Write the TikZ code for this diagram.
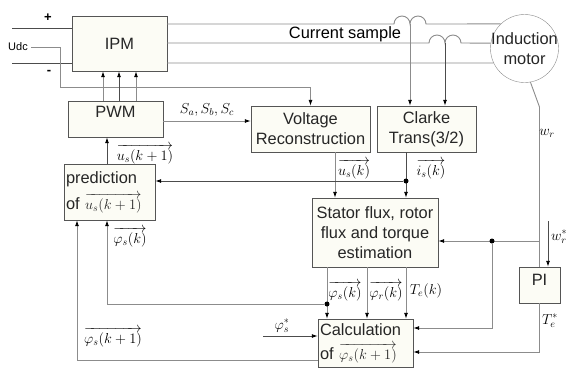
\documentclass[tikz,border=0pt]{standalone}
\usepackage{amsmath,amssymb}
\usepackage[no-math]{fontspec}
\setmainfont{Liberation Sans}
\usepackage{tikz}
\usetikzlibrary{arrows.meta}
\usepackage{xcolor}
\definecolor{boxfill}{RGB}{252,252,245}
\definecolor{boxline}{RGB}{85,85,85}
\definecolor{wiregray}{RGB}{140,140,140}

\begin{document}
\begin{tikzpicture}[x=1pt,y=-1pt,>={Latex[length=6pt,width=4pt,color=black]},
  font=\fontsize{16.4}{20}\selectfont,
  block/.style={draw=boxline,fill=boxfill,text=black!85,inner sep=2pt,align=center},
  wire/.style={draw=wiregray,line width=0.9pt},
  dark/.style={draw=black!70,line width=0.9pt},
  lbl/.style={font=\fontsize{14.5}{17}\selectfont,inner sep=0pt},
  dot/.style={circle,fill=black,inner sep=0pt,minimum size=5pt}]
\useasboundingbox (0,0) rectangle (568,368);
% blocks
\node[block,minimum width=95pt,minimum height=55pt] (ipm) at (119.5,43.5) {IPM};
\node[block,minimum width=95pt,minimum height=36pt,text depth=14pt] (pwm) at (115.5,119) {PWM};
\node[block,minimum width=119pt,minimum height=46pt] (vr) at (310.5,129) {Voltage\\Reconstruction};
\node[block,minimum width=99pt,minimum height=46pt] (clarke) at (426.5,129) {Clarke\\Trans(3/2)};
\node[block,minimum width=91pt,minimum height=56pt,text width=87pt,align=left] (pred) at (109.5,192) {prediction\\[6pt]of {\fontsize{14.5}{17}\selectfont$\overrightarrow{u_s(k+1)}$}};
\node[block,minimum width=126pt,minimum height=69pt] (est) at (375,232.5) {Stator flux, rotor\\flux and torque\\estimation};
\node[block,minimum width=95pt,minimum height=48pt,text width=91pt,align=left] (calc) at (365.5,343) {Calculation\\[4pt]of {\fontsize{14.5}{17}\selectfont$\overrightarrow{\varphi_s(k+1)}$}};
\node[block,minimum width=41pt,minimum height=36pt,text depth=10pt] (pi) at (539.5,285) {PI};
\node[circle,draw=wiregray,fill=white,minimum size=68pt,inner sep=0pt] (motor) at (524.5,48.5) {};
\node[align=center,text=black!85] (motortxt) at (motor) {Induction\\motor};
% dc link
\coordinate (pin) at (12,28);
\coordinate (nin) at (12,63);
\draw[dark] (pin) -- (pin -| ipm.west);
\draw[dark] (nin) -- (nin -| ipm.west);
\node[font=\fontsize{13}{15}\selectfont\bfseries] (plus) at (48,18) {+};
\node[font=\fontsize{13}{15}\selectfont\bfseries] (minus) at (49,72) {-};
\node[font=\fontsize{11}{13}\selectfont] (udc) at (18,47) {Udc};
\draw[wire,->] (udc.east) -- (60,47) -- (60,87) -| (vr.north);
% phases to the motor
\draw[wire] (ipm.east |- 0,24) -- (394,24) arc[start angle=180,end angle=360,radius=8] arc[start angle=180,end angle=360,radius=8] -- (motor.134);
\draw[wire] (ipm.east |- 0,43) -- (429,43) arc[start angle=180,end angle=360,radius=8] arc[start angle=180,end angle=360,radius=8] -- (motor.171);
\draw[wire] (ipm.east |- 0,63) -- (motor.205);
\coordinate (ia) at (410,24);
\coordinate (ib) at (445,43);
\draw[wire,->] (ia) -- (ia |- clarke.north);
\draw[dark,->] (ib) -- (ib |- clarke.north);
\node (cur) at (345,34) {Current sample};
% modulator
\foreach \x/\s in {103/wire,119/dark,136/wire}
  \draw[\s,->] (pwm.north -| \x,0) -- (ipm.south -| \x,0);
\draw[wire,->] (pwm.east |- 0,121) -- (vr.west |- 0,121) node[lbl,midway,above=4pt] (sabc) {$S_a,S_b,S_c$};
\draw[dark,->] (pred.north -| 107,0) -- (pwm.south -| 107,0);
\node[lbl] (uk1) at (145,154) {$\overrightarrow{u_s(k+1)}$};
% measurements
\draw[wire,->] (vr.south -| 335,0) -- (est.north -| 335,0);
\node[lbl] (uk) at (354,169) {$\overrightarrow{u_s(k)}$};
\draw[dark,->] (clarke.south -| 406,0) -- (est.north -| 406,0);
\node[dot] (dis) at (406,181) {};
\draw[dark,->] (dis) -- (dis -| pred.east);
\node[lbl] (ik) at (431,169) {$\overrightarrow{i_s(k)}$};
% estimator outputs
\foreach \x in {327,367,406}
  \draw[wire,->] (est.south -| \x,0) -- (calc.north -| \x,0);
\node[lbl] (phis) at (345,291) {$\overrightarrow{\varphi_s(k)}$};
\node[lbl] (phir) at (386,291) {$\overrightarrow{\varphi_r(k)}$};
\node[lbl] (tek) at (426,291) {$T_e(k)$};
\node[dot] (dphi) at (327,304) {};
\draw[wire,->] (dphi) -| (pred.south -| 107,0);
\node[lbl] (phisl) at (130,237) {$\overrightarrow{\varphi_s(k)}$};
\draw[wire,->] (calc.west |- 0,360) -| (pred.south -| 77,0);
\node[lbl] (phik1) at (113,337) {$\overrightarrow{\varphi_s(k+1)}$};
\coordinate (phiref) at (263,336);
\draw[dark,->] (phiref) -- (phiref -| calc.west);
\node[lbl] (phistar) at (282,326) {$\varphi_s^*$};
% speed loop
\draw[wire] (motor.280) -- (539.5,107) -- (pi.north);
\node[lbl] (wr) at (547,133) {$w_r$};
\coordinate (wj) at (539.5,241);
\draw[wire,->] (wj) -- (wj -| est.east);
\node[dot] (dw) at (492,241) {};
\draw[wire,->] (dw) |- (calc.east |- 0,328);
\coordinate (wref) at (548,221);
\draw[dark,->] (wref) -- (wref |- pi.north);
\node[lbl,anchor=west] (wrs) at (551,237) {$w_r^*$};
\draw[wire,->] (pi.south) |- (calc.east |- 0,352);
\node[lbl] (tes) at (550,321) {$T_e^*$};
\end{tikzpicture}
\end{document}
